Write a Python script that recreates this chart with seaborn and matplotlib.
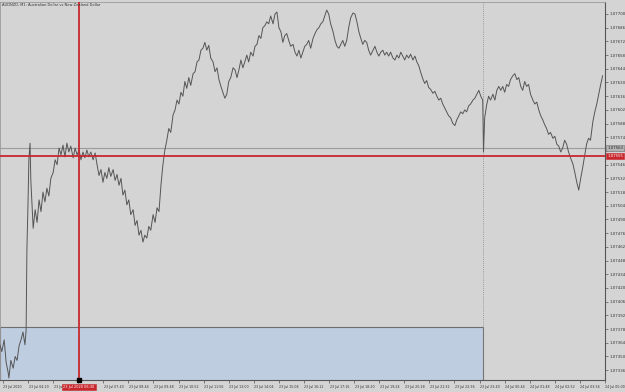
import numpy as np
import pandas as pd
import matplotlib
matplotlib.use("Agg")
import matplotlib.pyplot as plt
import matplotlib.patches as patches
import matplotlib.transforms as mtransforms
import seaborn as sns

# ---------------- data ----------------
title_text = "AUDNZD, M1: Australian Dollar vs New Zealand Dollar"

# minutes since chart start
minutes = [-8, -3, 3, 8, 13, 15, 20, 26, 31, 36, 41, 46, 51, 56, 59,
           61, 64, 66, 69, 71, 74, 77, 82, 87, 92, 97, 102, 107, 112, 117,
           122, 128, 133, 138, 143, 148, 153, 158, 163, 168, 173, 179, 184, 189, 194,
           199, 204, 209, 214, 219, 224, 230, 235, 240, 245, 250, 255, 260, 265, 270,
           275, 281, 286, 291, 296, 301, 306, 311, 316, 321, 326, 332, 337, 342, 347,
           352, 357, 362, 367, 372, 377, 383, 388, 393, 398, 403, 408, 413, 418, 423,
           428, 434, 439, 444, 449, 454, 459, 464, 469, 474, 479, 485, 490, 495, 500,
           505, 510, 515, 520, 525, 530, 536, 541, 546, 551, 556, 561, 566, 571, 576,
           581, 587, 592, 597, 602, 607, 612, 617, 622, 627, 632, 638, 643, 648, 653,
           658, 663, 668, 673, 678, 683, 689, 694, 699, 704, 709, 714, 719, 724, 729,
           734, 740, 745, 750, 755, 760, 765, 770, 775, 780, 785, 791, 796, 801, 806,
           811, 816, 821, 826, 831, 836, 842, 847, 852, 857, 862, 867, 872, 877, 882,
           887, 893, 898, 903, 908, 913, 918, 923, 928, 933, 938, 944, 949, 954, 959,
           964, 969, 974, 979, 984, 989, 995, 1000, 1005, 1010, 1015, 1020, 1025, 1030, 1035,
           1040, 1046, 1051, 1056, 1061, 1066, 1071, 1076, 1081, 1086, 1091, 1097, 1102, 1107, 1112,
           1117, 1122, 1127, 1132, 1137, 1142, 1148, 1153, 1158, 1163, 1168, 1173, 1178, 1183, 1188,
           1193, 1199, 1204, 1209, 1214, 1219, 1224, 1226, 1229, 1234, 1239, 1244, 1250, 1255, 1260,
           1265, 1270, 1275, 1280, 1285, 1290, 1295, 1301, 1306, 1311, 1316, 1321, 1326, 1331, 1336,
           1341, 1346, 1352, 1357, 1362, 1367, 1372, 1377, 1382, 1387, 1392, 1397, 1403, 1408, 1413,
           1418, 1423, 1428, 1433, 1438, 1443, 1448, 1454, 1459, 1464, 1469, 1474, 1479, 1484, 1489,
           1494, 1499, 1505, 1510, 1515, 1520, 1525, 1530]

# close prices in points (1e-5)
points = [107362, 107355, 107367, 107344, 107334, 107328, 107346, 107338, 107350, 107346, 107361, 107367, 107375, 107362, 107377,
          107459, 107510, 107551, 107568, 107530, 107505, 107481, 107500, 107487, 107510, 107498, 107518, 107508, 107522, 107514,
          107532, 107538, 107551, 107546, 107563, 107556, 107566, 107554, 107568, 107559, 107565, 107553, 107563, 107556, 107561,
          107551, 107559, 107553, 107561, 107554, 107559, 107551, 107558, 107546, 107535, 107541, 107528, 107538, 107532, 107543,
          107534, 107541, 107530, 107536, 107525, 107532, 107515, 107520, 107505, 107510, 107495, 107500, 107484, 107489, 107474,
          107479, 107467, 107474, 107471, 107483, 107479, 107495, 107487, 107502, 107498, 107525, 107546, 107561, 107571, 107583,
          107579, 107597, 107602, 107612, 107608, 107620, 107616, 107631, 107624, 107635, 107627, 107639, 107641, 107651, 107653,
          107663, 107665, 107671, 107663, 107668, 107655, 107651, 107641, 107645, 107633, 107626, 107620, 107614, 107618, 107631,
          107635, 107645, 107643, 107635, 107643, 107653, 107645, 107651, 107658, 107651, 107661, 107657, 107667, 107669, 107678,
          107675, 107686, 107688, 107692, 107690, 107698, 107690, 107700, 107702, 107686, 107682, 107671, 107678, 107680, 107673,
          107667, 107669, 107661, 107657, 107663, 107655, 107661, 107667, 107669, 107673, 107665, 107675, 107680, 107684, 107686,
          107690, 107692, 107698, 107704, 107700, 107690, 107682, 107673, 107667, 107665, 107669, 107673, 107667, 107673, 107686,
          107696, 107701, 107700, 107692, 107682, 107675, 107669, 107673, 107671, 107663, 107658, 107663, 107667, 107661, 107657,
          107661, 107663, 107658, 107661, 107657, 107661, 107655, 107653, 107658, 107655, 107661, 107657, 107653, 107658, 107655,
          107659, 107653, 107657, 107651, 107647, 107640, 107634, 107629, 107632, 107625, 107623, 107619, 107621, 107616, 107612,
          107614, 107608, 107604, 107600, 107596, 107594, 107588, 107586, 107592, 107596, 107600, 107598, 107602, 107600, 107606,
          107608, 107612, 107614, 107618, 107622, 107616, 107612, 107559, 107594, 107607, 107616, 107612, 107618, 107612, 107622,
          107626, 107622, 107626, 107620, 107628, 107626, 107633, 107637, 107639, 107633, 107635, 107626, 107622, 107631, 107626,
          107628, 107618, 107612, 107608, 107610, 107602, 107596, 107592, 107587, 107583, 107577, 107579, 107573, 107575, 107567,
          107565, 107559, 107563, 107571, 107567, 107559, 107553, 107547, 107538, 107528, 107520, 107532, 107543, 107555, 107567,
          107573, 107571, 107590, 107600, 107608, 107618, 107628, 107637]

price_ticks = [1.07700, 1.07686, 1.07672, 1.07658, 1.07644, 1.07630, 1.07616, 1.07602, 1.07588,
               1.07574, 1.07560, 1.07546, 1.07532, 1.07518, 1.07504, 1.07490, 1.07476, 1.07462,
               1.07448, 1.07434, 1.07420, 1.07406, 1.07392, 1.07378, 1.07364, 1.07350, 1.07336]

time_ticks = [0, 64, 128, 192, 256, 320, 384, 448, 512, 576, 640, 704, 768, 832, 896,
              960, 1024, 1088, 1152, 1216, 1280, 1344, 1408, 1472, 1536]
time_labels = ["23 Jul 2020", "23 Jul 04:20", "23 Jul 05:32", "", "23 Jul 07:40",
               "23 Jul 08:44", "23 Jul 09:48", "23 Jul 10:52", "23 Jul 11:56", "23 Jul 13:00",
               "23 Jul 14:04", "23 Jul 15:08", "23 Jul 16:12", "23 Jul 17:16", "23 Jul 18:20",
               "23 Jul 19:24", "23 Jul 20:28", "23 Jul 21:32", "23 Jul 22:36", "23 Jul 23:40",
               "24 Jul 00:44", "24 Jul 01:48", "24 Jul 02:52", "24 Jul 03:56", "24 Jul 05:00"]

cross_minute = 194
cross_time_label = "23 Jul 2020 06:30"
cross_price = 1.07555
bid_price = 1.07563
separator_minute = 1224
box_end_minute = 1224
box_low = 1.07300
box_high = 1.07380

x_range = (-7.65, 1536)
y_range = (1.0732598, 1.0771226)

# ---------------- style ----------------
BG = "#d4d4d4"
LINE = "#555555"
RED = "#c8282d"

sns.set_theme(style="white")
plt.rcParams["font.family"] = ["DejaVu Sans"]

W, H = 625, 392
fig = plt.figure(figsize=(W / 100, H / 100), dpi=100, facecolor=BG)
ax = fig.add_axes([0, (H - 380) / H, 605 / W, (380 - 2) / H])
ax.set_facecolor(BG)

df = pd.DataFrame({"minute": minutes, "price": np.array(points) / 1e5})

# blue box
rect = patches.Rectangle((x_range[0], box_low), box_end_minute - x_range[0], box_high - box_low,
                         facecolor="#bfcde1", edgecolor="#6e6e6e", linewidth=0.8, zorder=1)
ax.add_patch(rect)

sns.lineplot(data=df, x="minute", y="price", ax=ax, color=LINE, linewidth=0.7,
             estimator=None, sort=False, zorder=3)

ax.axvline(separator_minute, color="#8a8a8a", linestyle=(0, (1, 1.5)), linewidth=0.6, zorder=2)
ax.axhline(bid_price, color="#9c9c9c", linewidth=0.8, zorder=2)
ax.axhline(cross_price, color=RED, linewidth=1.3, zorder=4)
ax.axvline(cross_minute, color=RED, linewidth=1.3, zorder=4)

ax.set_xlim(*x_range)
ax.set_ylim(*y_range)
ax.set_xlabel("")
ax.set_ylabel("")

# spines
for s in ["left", "top"]:
    ax.spines[s].set_visible(True)
    ax.spines[s].set_color("#9a9a9a")
    ax.spines[s].set_linewidth(0.6)
for s in ["right", "bottom"]:
    ax.spines[s].set_visible(True)
    ax.spines[s].set_color("#555555")
    ax.spines[s].set_linewidth(0.8)

# y ticks on the right
ax.yaxis.tick_right()
ax.set_yticks(price_ticks)
ax.set_yticklabels([f"{p:.5f}" for p in price_ticks])
ax.tick_params(axis="y", which="major", direction="out", length=2, width=0.5, color="#555555",
               labelsize=2.8, labelcolor="#333333", pad=1, right=True, left=False)

ax.set_xticks(time_ticks)
ax.set_xticklabels(time_labels)
ax.tick_params(axis="x", which="major", direction="out", length=2, width=0.5, color="#555555",
               labelsize=2.3, labelcolor="#333333", pad=1.5, bottom=True)
offset = mtransforms.ScaledTranslation(0.5 / 100, 0, fig.dpi_scale_trans)
for lbl in ax.get_xticklabels():
    lbl.set_horizontalalignment("left")
    lbl.set_transform(lbl.get_transform() + offset)

# title
ax.text(0.003, 0.997, title_text, transform=ax.transAxes, ha="left", va="top",
        fontsize=2.6, color="#333333", zorder=6)

# price axis labels for bid and crosshair
ytrans = mtransforms.blended_transform_factory(ax.transAxes, ax.transData)
ax.text(1.004, bid_price, f"{bid_price:.5f}", transform=ytrans, ha="left", va="center",
        fontsize=2.8, color="#222222", clip_on=False, zorder=7,
        bbox=dict(boxstyle="square,pad=0.25", facecolor="#b4b4b4", edgecolor="#777777", linewidth=0.4))
ax.text(1.004, cross_price, f"{cross_price:.5f}", transform=ytrans, ha="left", va="center",
        fontsize=2.8, color="white", clip_on=False, zorder=8,
        bbox=dict(boxstyle="square,pad=0.25", facecolor=RED, edgecolor=RED, linewidth=0.4))

# crosshair time label
xtrans = mtransforms.blended_transform_factory(ax.transData, ax.transAxes)
ax.text(cross_minute, -0.018, cross_time_label, transform=xtrans, ha="center", va="center",
        fontsize=2.5, color="white", clip_on=False, zorder=8,
        bbox=dict(boxstyle="square,pad=0.3", facecolor=RED, edgecolor=RED, linewidth=0.4))
ax.plot([cross_minute], [0], transform=xtrans, marker="s", markersize=2.2, color="black",
        clip_on=False, zorder=9)

fig.savefig("out.png", dpi=100, facecolor=BG)
